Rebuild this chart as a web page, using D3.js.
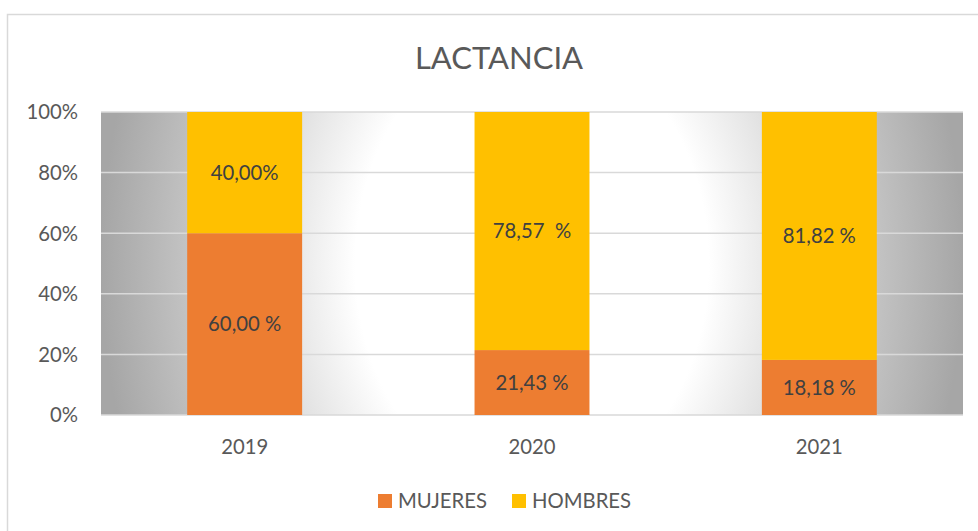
<!DOCTYPE html>
<html>
<head>
<meta charset="utf-8">
<script src="https://cdn.jsdelivr.net/npm/d3@7"></script>
<style>
  body { margin: 0; background: #fff; }
  text { font-family: Lato, "Open Sans", sans-serif; }
</style>
</head>
<body>
<svg id="chart"></svg>
<script>
// datos del gráfico
const years = ["2019", "2020", "2021"];
const mujeres = [60.00, 21.43, 18.18];
const hombres = [40.00, 78.57, 81.82];
const mujeresLabels = ["60,00 %", "21,43 %", "18,18 %"];
const hombresLabels = ["40,00%", "78,57  %", "81,82 %"];
const yTicks = [0, 20, 40, 60, 80, 100];
const series = ["MUJERES", "HOMBRES"];

var width = 978, height = 531;
var margin = {top: 112, right: 15, bottom: 116, left: 101};
var fs = 20.3;

const svg = d3.select("#chart")
  .attr("width", width)
  .attr("height", height);

const color = d3.scaleOrdinal(series, ["#ED7D31", "#FFC000"]);

const x = d3.scaleBand()
  .domain(years)
  .range([margin.left, width - margin.right])
  .paddingInner(0.6)
  .paddingOuter(0.3);

const y = d3.scaleLinear()
  .domain([0, 100])
  .range([height - margin.bottom, margin.top]);

// marco del gráfico
svg.append("rect")
  .attr("x", 7.5).attr("y", 14.5)
  .attr("width", 1000).attr("height", 600)
  .attr("fill", "#fff")
  .attr("stroke", "#d9d9d9")
  .attr("stroke-width", 1.5);

// fondo con degradado
const x0 = margin.left, x1 = width - margin.right;
const cx = (x0 + x1) / 2, cy = (y(0) + y(100)) / 2;
const a = (x1 - x0) / 2;
const grad = svg.append("defs").append("radialGradient")
  .attr("id", "bg")
  .attr("gradientUnits", "userSpaceOnUse")
  .attr("cx", 0).attr("cy", 0).attr("r", a)
  .attr("gradientTransform", `translate(${cx},${cy}) scale(1,1.3)`);
grad.append("stop").attr("offset", 0).attr("stop-color", "#ffffff");
grad.append("stop").attr("offset", 0.41).attr("stop-color", "#ffffff");
grad.append("stop").attr("offset", 0.6).attr("stop-color", "#e0e0e0");
grad.append("stop").attr("offset", 1).attr("stop-color", "#a6a6a6");

svg.append("rect")
  .attr("x", x0).attr("y", y(100))
  .attr("width", x1 - x0).attr("height", y(0) - y(100))
  .attr("fill", "url(#bg)");

// líneas de cuadrícula
svg.append("g")
  .selectAll("line")
  .data(yTicks)
  .join("line")
  .attr("x1", x0).attr("x2", x1)
  .attr("y1", d => y(d)).attr("y2", d => y(d))
  .attr("stroke", "#d9d9d9")
  .attr("stroke-width", 1.5);

// eje y
svg.append("g")
  .selectAll("text")
  .data(yTicks)
  .join("text")
  .attr("x", 78)
  .attr("y", d => y(d))
  .attr("dy", "0.36em")
  .attr("text-anchor", "end")
  .attr("font-size", fs)
  .attr("fill", "#595959")
  .text(d => d + "%");

// barras apiladas
const rows = years.map((yr, i) => ({year: yr, MUJERES: mujeres[i], HOMBRES: hombres[i], i: i}));
const stack = d3.stack().keys(series)(rows);
const labels = {MUJERES: mujeresLabels, HOMBRES: hombresLabels};

const layers = svg.append("g")
  .selectAll("g")
  .data(stack)
  .join("g")
  .attr("fill", d => color(d.key));

layers.selectAll("rect")
  .data(d => d)
  .join("rect")
  .attr("x", d => x(d.data.year))
  .attr("y", d => y(d[1]))
  .attr("width", x.bandwidth())
  .attr("height", d => y(d[0]) - y(d[1]));

// etiquetas de datos
stack.forEach(s => {
  svg.append("g")
    .selectAll("text")
    .data(s)
    .join("text")
    .attr("x", d => x(d.data.year) + x.bandwidth() / 2)
    .attr("y", d => y((d[0] + d[1]) / 2))
    .attr("dy", "0.36em")
    .attr("text-anchor", "middle")
    .attr("font-size", fs)
    .attr("fill", "#404040")
    .style("white-space", "pre")
    .text(d => labels[s.key][d.data.i]);
});

// eje x
svg.append("g")
  .selectAll("text")
  .data(years)
  .join("text")
  .attr("x", d => x(d) + x.bandwidth() / 2)
  .attr("y", 454)
  .attr("text-anchor", "middle")
  .attr("font-size", fs)
  .attr("fill", "#595959")
  .text(d => d);

// título
svg.append("text")
  .attr("x", 499)
  .attr("y", 69)
  .attr("text-anchor", "middle")
  .attr("font-size", 31)
  .attr("fill", "#595959")
  .text("LACTANCIA");

// leyenda
const legendX = [378, 512];
const legend = svg.append("g")
  .selectAll("g")
  .data(series)
  .join("g")
  .attr("transform", (d, i) => `translate(${legendX[i]},494)`);

legend.append("rect")
  .attr("width", 14).attr("height", 14)
  .attr("fill", d => color(d));

legend.append("text")
  .attr("x", 20)
  .attr("y", 13.5)
  .attr("font-size", fs)
  .attr("fill", "#595959")
  .text(d => d);
</script>
</body>
</html>
